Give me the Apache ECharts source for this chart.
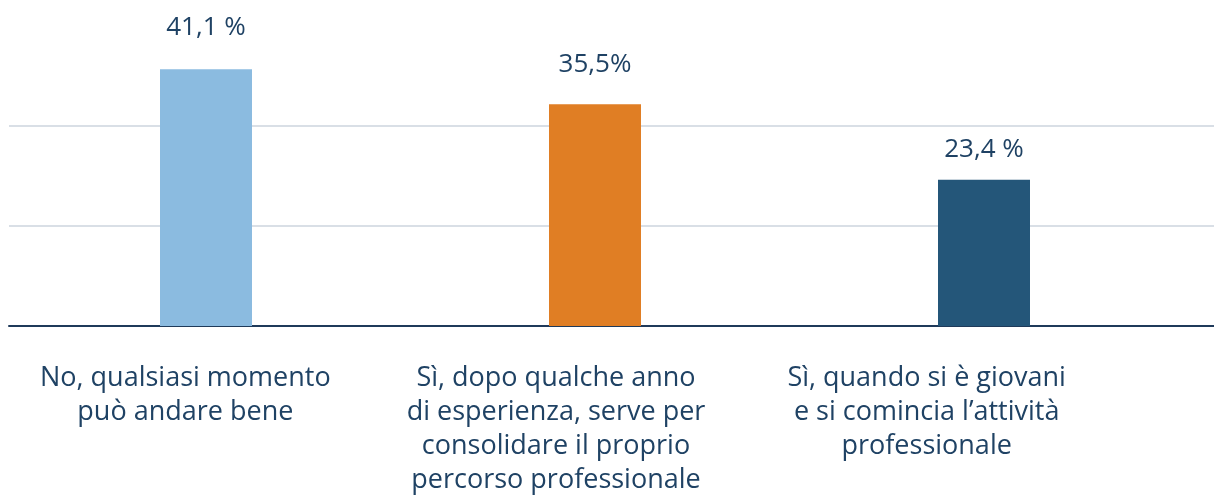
<!DOCTYPE html>
<html>
<head>
<meta charset="utf-8">
<script src="https://cdn.jsdelivr.net/npm/echarts@6/dist/echarts.min.js"></script>
<style>
  html, body { margin: 0; padding: 0; background: #fff; }
  #chart { width: 1214px; height: 498px; }
</style>
</head>
<body>
<div id="chart"></div>
<script>
const categories = [
  'No, qualsiasi momento\npuò andare bene',
  'Sì, dopo qualche anno\ndi esperienza, serve per\nconsolidare il proprio\npercorso professionale',
  'Sì, quando si è giovani\ne si comincia l’attività\nprofessionale'
]
const values = [41.1, 35.5, 23.4]
const valueLabels = ['41,1 %', '35,5%', '23,4 %']
const barColors = ['#8BBBE0', '#E07E24', '#245679']
// gap between bar top and its label, read per bar
const labelGaps = [27, 25, 15]

const TEXT = '#1F4264'
const FONT = "'Open Sans', 'Noto Sans', sans-serif"
const Y_MAX = 48
const Y_STEP = 16

const chart = echarts.init(document.getElementById('chart'), null, { renderer: 'canvas' })

chart.setOption({
  animation: false,
  grid: [
    // gridlines + baseline
    { left: 9, right: 0, top: 26, bottom: 172 },
    // bars
    { left: 11.5, right: 35.5, top: 26, bottom: 172 },
    // category labels
    { left: -12, right: 102, top: 26, bottom: 172 },
  ],
  xAxis: [
    {
      gridIndex: 0, type: 'category', data: [''],
      axisLine: { lineStyle: { color: '#1F3A5A', width: 2 } },
      axisTick: { show: false }, axisLabel: { show: false },
    },
    {
      gridIndex: 1, type: 'category', data: categories,
      axisLine: { show: false }, axisTick: { show: false }, axisLabel: { show: false },
    },
    {
      gridIndex: 2, type: 'category', data: categories,
      axisLine: { show: false }, axisTick: { show: false },
      axisLabel: {
        interval: 0, margin: 35, color: TEXT, fontFamily: FONT,
        fontSize: 27, lineHeight: 34,
      },
    },
  ],
  yAxis: [0, 1, 2].map(i => ({
    gridIndex: i, type: 'value', min: 0, max: Y_MAX, interval: Y_STEP,
    axisLabel: { show: false }, axisLine: { show: false }, axisTick: { show: false },
    splitLine: i === 0
      ? { show: true, showMinLine: false, showMaxLine: false, lineStyle: { color: '#D9DFE6', width: 2 } }
      : { show: false },
  })),
  series: [{
    type: 'bar',
    xAxisIndex: 1,
    yAxisIndex: 1,
    barWidth: 92,
    data: values.map((v, i) => ({
      value: v,
      itemStyle: { color: barColors[i] },
      label: { distance: labelGaps[i] },
    })),
    label: {
      show: true, position: 'top', color: TEXT, fontFamily: FONT,
      fontSize: 26, lineHeight: 30,
      formatter: p => valueLabels[p.dataIndex],
    },
  }],
})

window.addEventListener('resize', () => chart.resize())
</script>
</body>
</html>
